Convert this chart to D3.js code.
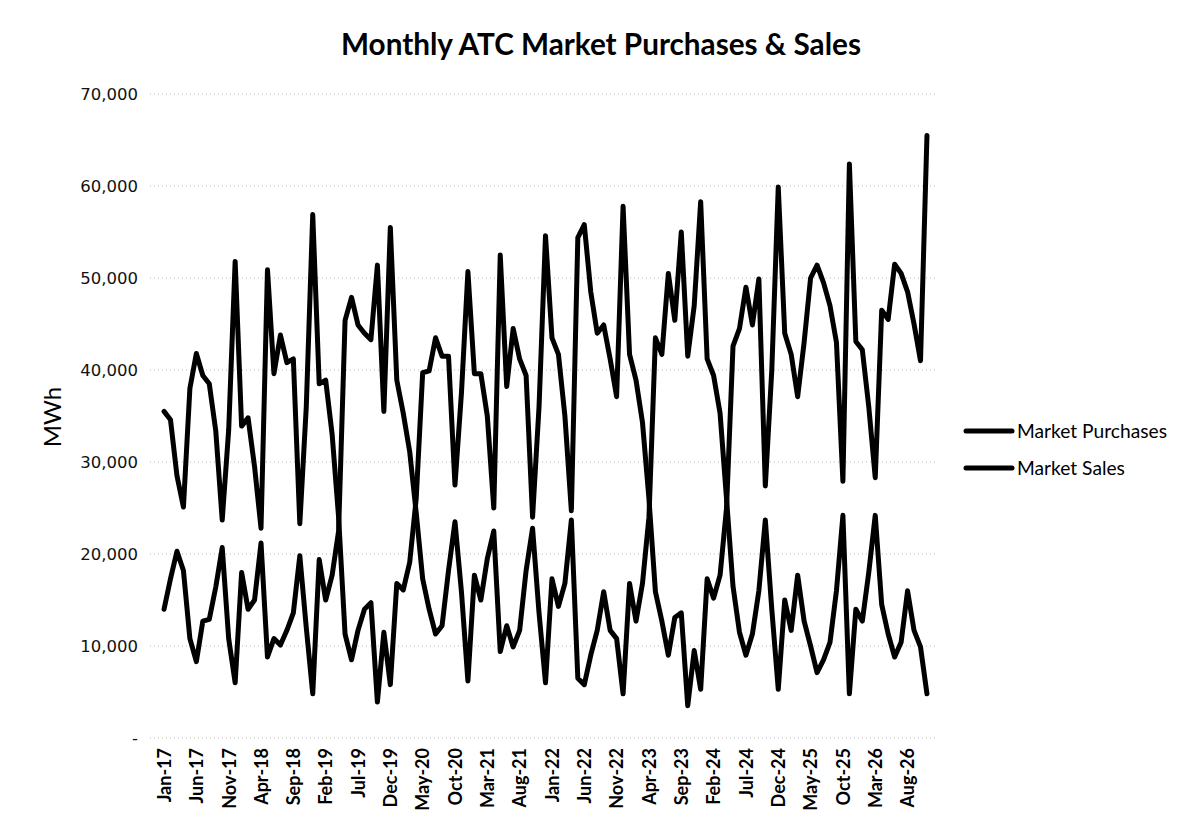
<!DOCTYPE html>
<html><head><meta charset="utf-8">
<script src="https://cdn.jsdelivr.net/npm/d3@7"></script>
<style>body{margin:0;background:#fff}</style>
</head><body>
<svg id="c" width="1183" height="832"></svg>
<script>
const months = [
"Jan-17","Feb-17","Mar-17","Apr-17","May-17","Jun-17","Jul-17","Aug-17","Sep-17","Oct-17","Nov-17","Dec-17",
"Jan-18","Feb-18","Mar-18","Apr-18","May-18","Jun-18","Jul-18","Aug-18","Sep-18","Oct-18","Nov-18","Dec-18",
"Jan-19","Feb-19","Mar-19","Apr-19","May-19","Jun-19","Jul-19","Aug-19","Sep-19","Oct-19","Nov-19","Dec-19",
"Jan-20","Feb-20","Mar-20","Apr-20","May-20","Jun-20","Jul-20","Aug-20","Sep-20","Oct-20","Nov-20","Dec-20",
"Jan-21","Feb-21","Mar-21","Apr-21","May-21","Jun-21","Jul-21","Aug-21","Sep-21","Oct-21","Nov-21","Dec-21",
"Jan-22","Feb-22","Mar-22","Apr-22","May-22","Jun-22","Jul-22","Aug-22","Sep-22","Oct-22","Nov-22","Dec-22",
"Jan-23","Feb-23","Mar-23","Apr-23","May-23","Jun-23","Jul-23","Aug-23","Sep-23","Oct-23","Nov-23","Dec-23",
"Jan-24","Feb-24","Mar-24","Apr-24","May-24","Jun-24","Jul-24","Aug-24","Sep-24","Oct-24","Nov-24","Dec-24",
"Jan-25","Feb-25","Mar-25","Apr-25","May-25","Jun-25","Jul-25","Aug-25","Sep-25","Oct-25","Nov-25","Dec-25",
"Jan-26","Feb-26","Mar-26","Apr-26","May-26","Jun-26","Jul-26","Aug-26","Sep-26","Oct-26","Nov-26"];

const tickLabels = ["Jan-17","Jun-17","Nov-17","Apr-18","Sep-18","Feb-19","Jul-19","Dec-19","May-20","Oct-20",
"Mar-21","Aug-21","Jan-22","Jun-22","Nov-22","Apr-23","Sep-23","Feb-24","Jul-24","Dec-24","May-25","Oct-25","Mar-26","Aug-26"];

const yTicks = [0,10000,20000,30000,40000,50000,60000,70000];

// MWh (thousands)
const marketPurchases = [
35.5,34.6,28.5,25.1,38.0,41.8,39.4,38.5,33.4,23.7,
33.5,51.8,33.9,34.8,29.5,22.8,50.9,39.6,43.8,40.8,
41.2,23.3,36.0,56.9,38.5,38.9,33.0,24.0,11.3,8.5,
11.7,14.0,14.7,3.9,11.5,5.8,16.8,16.1,19.1,26.0,
39.7,39.9,43.5,41.5,41.5,27.5,37.5,50.7,39.6,39.6,
35.0,25.0,52.5,38.2,44.5,41.2,39.4,24.0,36.0,54.6,
43.5,41.7,35.0,24.7,54.4,55.8,48.5,44.0,44.9,41.2,
37.1,57.8,41.7,38.9,34.3,26.0,15.9,12.7,9.0,13.1,
13.6,3.5,9.5,5.3,17.3,15.2,17.7,25.0,42.6,44.5,
49.0,44.9,49.9,27.4,40.0,59.9,44.0,41.7,37.1,43.0,
50.0,51.4,49.5,47.0,43.0,27.9,62.4,43.1,42.2,36.0,
28.3,46.5,45.5,51.5,50.5,48.5,45.0,41.0,65.5];

const marketSales = [
14.0,17.3,20.3,18.2,10.8,8.3,12.7,12.9,16.4,20.7,
10.8,6.0,18.0,14.0,15.0,21.2,8.8,10.8,10.1,11.7,
13.6,19.8,12.0,4.8,19.4,15.0,17.7,22.5,45.4,47.9,
44.9,44.0,43.3,51.4,35.5,55.5,38.9,35.3,31.1,24.5,
17.3,14.0,11.3,12.2,18.2,23.5,15.9,6.2,17.7,15.0,
19.5,22.5,9.4,12.2,9.9,11.7,18.2,22.8,13.6,6.0,
17.3,14.3,16.8,23.7,6.5,5.8,9.0,11.7,15.9,11.7,
10.8,4.8,16.8,12.7,16.8,24.0,43.5,41.7,50.5,45.4,
55.0,41.5,47.0,58.3,41.2,39.4,35.3,26.0,16.5,11.5,
9.0,11.3,16.0,23.7,14.0,5.3,15.0,11.7,17.7,12.7,
10.0,7.1,8.5,10.4,16.0,24.2,4.8,14.0,12.7,18.0,
24.2,14.5,11.3,8.8,10.4,16.0,11.7,9.9,4.8];

const seriesNames = ["Market Purchases","Market Sales"];

const svg = d3.select("#c");
const x = d3.scalePoint().domain(months).range([160.8, 930.2]).padding(0.5);
const y = d3.scaleLinear().domain([0,70000]).range([738, 94]);

// gridlines
svg.append("g").selectAll("line").data(yTicks).join("line")
  .attr("x1",150).attr("x2",935)
  .attr("y1",d=>y(d)).attr("y2",d=>y(d))
  .attr("stroke","#b8b8b8").attr("stroke-width",1).attr("stroke-dasharray","1,3");

// y axis labels
const yAxis = d3.axisLeft(y).tickValues(yTicks).tickSize(0).tickPadding(0)
  .tickFormat(d => d===0 ? "-" : d3.format(",")(d));
const ya = svg.append("g").attr("transform","translate(138,0)").call(yAxis);
ya.select(".domain").remove();
ya.selectAll("text").attr("font-family","DejaVu Sans").attr("font-size","16.5px").attr("fill","#111")
  .attr("dy","0.35em");

// x axis labels
const xAxis = d3.axisBottom(x).tickValues(tickLabels).tickSize(0).tickPadding(0);
const xa = svg.append("g").attr("transform","translate(0,748)").call(xAxis);
xa.select(".domain").remove();
xa.selectAll("text").attr("font-family","Lato").attr("font-weight","bold").attr("font-size","18px").attr("fill","#000")
  .attr("transform","rotate(-90)").attr("text-anchor","end").attr("x",0).attr("y",0).attr("dy","0.35em");

// lines
const line = d3.line().x((d,i)=>x(months[i])).y(d=>y(d*1000));
[marketPurchases, marketSales].forEach(s=>{
  svg.append("path").datum(s).attr("d",line).attr("fill","none").attr("stroke","#000")
    .attr("stroke-width",5).attr("stroke-linejoin","round").attr("stroke-linecap","round");
});

// title
svg.append("text").attr("x",601).attr("y",55).attr("text-anchor","middle")
  .attr("font-family","Lato").attr("font-weight","bold").attr("font-size","29.7px").attr("fill","#000")
  .text("Monthly ATC Market Purchases & Sales");

// y title
svg.append("text").attr("transform","translate(61,417) rotate(-90)").attr("text-anchor","middle")
  .attr("font-family","Lato").attr("font-size","24px").attr("fill","#000").text("MWh");

// legend
const lg = svg.append("g");
seriesNames.forEach((n,k)=>{
  const ly = 431 + k*37;
  lg.append("line").attr("x1",966).attr("x2",1012).attr("y1",ly).attr("y2",ly)
    .attr("stroke","#000").attr("stroke-width",5).attr("stroke-linecap","round");
  lg.append("text").attr("x",1017).attr("y",ly).attr("dy","0.35em")
    .attr("font-family","Lato").attr("font-size","19.2px").attr("fill","#000").text(n);
});
</script>
</body></html>
